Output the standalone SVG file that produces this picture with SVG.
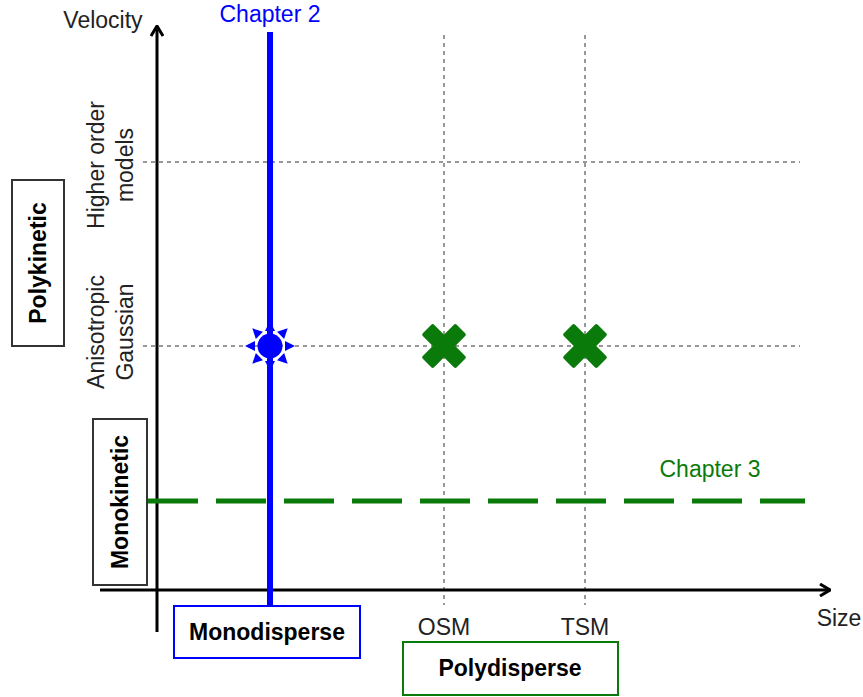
<svg xmlns="http://www.w3.org/2000/svg" width="863" height="697" viewBox="0 0 863 697">
<style>
text{font-family:"Liberation Sans",Arial,sans-serif;font-size:23px;fill:#222}
.b{font-weight:bold;fill:#000}
.grid{stroke:#777;stroke-width:1.5;stroke-dasharray:4,4;fill:none}
.axis{stroke:#000;stroke-width:3;fill:none}
.box{fill:#fff;stroke-width:2}
</style>
<defs>
<marker id="ah" viewBox="0 0 12 14" refX="11" refY="7" markerWidth="12" markerHeight="14" markerUnits="userSpaceOnUse" orient="auto">
<polyline points="1,1 11,7 1,13" fill="none" stroke="#000" stroke-width="3"/>
</marker>
<g id="xm" fill="#0a7a0a">
<rect x="-24" y="-8" width="48" height="16" rx="2" transform="rotate(45)"/>
<rect x="-24" y="-8" width="48" height="16" rx="2" transform="rotate(-45)"/>
</g>
<g id="rays">
<polygon points="-25,0 -15,-5 -15,5"/>
<polygon points="25,0 15,-5 15,5"/>
<polygon points="0,-25 -5,-15 5,-15"/>
<polygon points="0,25 -5,15 5,15"/>
</g>
</defs>
<g id="connectors">
<line class="grid" x1="143" y1="162" x2="800" y2="162"/>
<line class="grid" x1="143" y1="346" x2="800" y2="346"/>
<line class="grid" x1="444" y1="35" x2="444" y2="605"/>
<line class="grid" x1="585" y1="35" x2="585" y2="605"/>
<line class="axis" x1="157" y1="632" x2="157" y2="26" marker-end="url(#ah)"/>
<line class="axis" x1="100" y1="590" x2="830" y2="590" marker-end="url(#ah)"/>
<line x1="148" y1="501" x2="805" y2="501" stroke="#0a7a0a" stroke-width="5" stroke-dasharray="50,18"/>
<line x1="270" y1="32" x2="270" y2="606" stroke="#0000ff" stroke-width="6"/>
</g>
<g id="axis-labels">
<text x="103" y="28" text-anchor="middle">Velocity</text>
<text x="839" y="626" text-anchor="middle">Size</text>
<text x="444" y="635" text-anchor="middle">OSM</text>
<text x="585" y="635" text-anchor="middle">TSM</text>
<text x="270" y="22" text-anchor="middle" style="fill:#0000ff">Chapter 2</text>
<text x="710" y="477" text-anchor="middle" style="fill:#0a7a0a">Chapter 3</text>
<text transform="translate(104,165) rotate(-90)" text-anchor="middle">Higher order</text>
<text transform="translate(133,165) rotate(-90)" text-anchor="middle">models</text>
<text transform="translate(104,332) rotate(-90)" text-anchor="middle">Anisotropic</text>
<text transform="translate(133,332) rotate(-90)" text-anchor="middle">Gaussian</text>
</g>
<g id="polykinetic">
<rect class="box" x="12" y="180" width="52" height="166" stroke="#333"/>
<text class="b" transform="translate(46,263) rotate(-90)" text-anchor="middle">Polykinetic</text>
</g>
<g id="monokinetic">
<rect class="box" x="93" y="419" width="54" height="166" stroke="#333"/>
<text class="b" transform="translate(128,502) rotate(-90)" text-anchor="middle">Monokinetic</text>
</g>
<g id="monodisperse">
<rect class="box" x="174" y="606" width="186" height="52" stroke="#0000ff"/>
<text class="b" x="267" y="640" text-anchor="middle">Monodisperse</text>
</g>
<g id="polydisperse">
<rect class="box" x="403" y="642" width="215" height="53" stroke="#0a7a0a"/>
<text class="b" x="510" y="676" text-anchor="middle">Polydisperse</text>
</g>
<g id="marker-chapter2">
<g transform="translate(270,346)" fill="#0000ff">
<circle r="12.5"/>
<use href="#rays"/>
<use href="#rays" transform="rotate(45)"/>
</g>
</g>
<g id="marker-osm"><use href="#xm" x="444" y="346"/></g>
<g id="marker-tsm"><use href="#xm" x="585" y="346"/></g>
</svg>
